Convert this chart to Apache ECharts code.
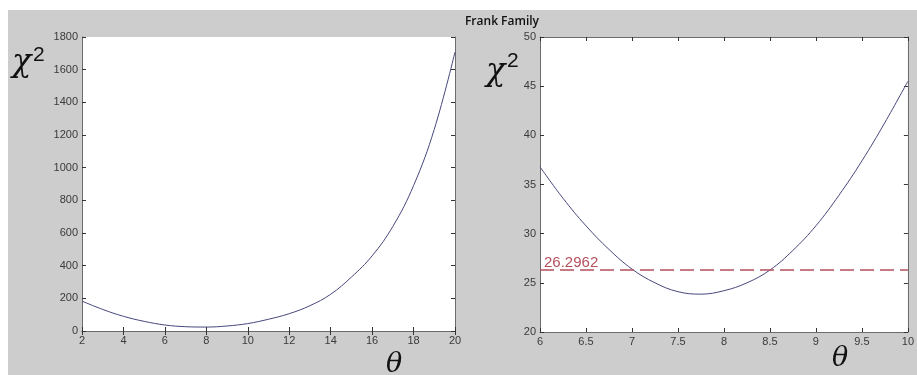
<!DOCTYPE html>
<html>
<head>
<meta charset="utf-8">
<script src="https://cdn.jsdelivr.net/npm/echarts@6/dist/echarts.min.js"></script>
<style>
	html, body { margin: 0; padding: 0; background: #fff; }
	#chart { width: 917px; height: 375px; }
</style>
</head>
<body>
<div id="chart"></div>
<script>
// theta / chi^2 (left: wide range, right: zoom on the minimum)
const wideTheta = [2, 3, 4, 5, 6, 7, 8, 9, 10, 11, 12, 13, 14, 15, 16, 17, 18, 19, 20]
const wideChi2 = [183, 132, 90, 59, 36.8, 26.4, 24.2, 30.8, 45.5, 72, 106, 155, 225, 330, 460, 640, 890, 1235, 1708]

const zoomTheta = [6, 6.25, 6.5, 6.75, 7, 7.25, 7.5, 7.75, 8, 8.25, 8.5, 8.75, 9, 9.25, 9.5, 9.75, 10]
const zoomChi2 = [36.8, 33.6, 30.8, 28.4, 26.4, 25.0, 24.1, 23.85, 24.2, 25.0, 26.3, 28.3, 30.8, 33.9, 37.4, 41.3, 45.5]

const threshold = 26.2962
const titleText = 'Frank Family'

const axisColor = '#6b6b6b'
const labelColor = '#3a3a3a'
const curveColor = '#47477c'
const dashColor = '#b4505c'
const tickFont = 'Liberation Sans'

function pairs(xs, ys) {
	return xs.map((x, i) => [x, ys[i]])
}

// one axis with labels plus a twin on the opposite side carrying only inward ticks (box look)
function xAxes(gridIndex, min, max, interval) {
	const base = {
		type: 'value', gridIndex, min, max, interval,
		splitLine: { show: false },
		axisLine: { lineStyle: { color: axisColor, width: 1 } },
		axisTick: { inside: true, length: 4, lineStyle: { color: '#333' } }
	}
	return [
		Object.assign({}, base, {
			position: 'bottom',
			axisLabel: { color: labelColor, fontSize: 11, margin: 4, fontFamily: tickFont, formatter: v => String(v) }
		}),
		Object.assign({}, base, { position: 'top', axisLabel: { show: false } })
	]
}

function yAxes(gridIndex, min, max, interval) {
	const base = {
		type: 'value', gridIndex, min, max, interval,
		splitLine: { show: false },
		axisLine: { show: true, lineStyle: { color: axisColor, width: 1 } },
		axisTick: { show: true, inside: true, length: 4, lineStyle: { color: '#333' } }
	}
	return [
		Object.assign({}, base, {
			position: 'left',
			axisLabel: { color: labelColor, fontSize: 11, margin: 4, fontFamily: tickFont, formatter: v => String(v) }
		}),
		Object.assign({}, base, { position: 'right', axisLabel: { show: false } })
	]
}

function label(x, y, text, size, family, italic) {
	return {
		type: 'text',
		style: {
			x, y, text,
			fontSize: size,
			fontFamily: family,
			fontStyle: italic ? 'italic' : 'normal',
			fill: '#111',
			verticalAlign: 'top'
		}
	}
}

const chart = echarts.init(document.getElementById('chart'))

chart.setOption({
	backgroundColor: '#fff',
	animation: false,
	title: {
		text: titleText,
		left: 497,
		top: 11,
		textAlign: 'center',
		textStyle: { fontSize: 12, fontWeight: 600, color: '#111', fontFamily: 'Open Sans' }
	},
	graphic: [
		{ type: 'rect', z: -100, shape: { x: 8, y: 10, width: 909, height: 365 }, style: { fill: '#cdcdcd' } },
		label(12, 47, 'χ', 32, 'DejaVu Serif', true),
		label(33, 45, '2', 21, 'Liberation Sans', false),
		label(486, 56, 'χ', 32, 'DejaVu Serif', true),
		label(507, 51, '2', 21, 'Liberation Sans', false),
		label(386, 351, 'θ', 27, 'DejaVu Serif', true),
		label(832, 345, 'θ', 27, 'DejaVu Serif', true)
	],
	grid: [
		{ left: 82, right: 462, top: 37, bottom: 44, show: true, backgroundColor: '#fff', borderWidth: 0 },
		{ left: 540, right: 3, top: 37, bottom: 43, show: true, backgroundColor: '#fff', borderWidth: 0 }
	],
	xAxis: [].concat(xAxes(0, 2, 20, 2), xAxes(1, 6, 10, 0.5)),
	yAxis: [].concat(yAxes(0, 0, 1800, 200), yAxes(1, 20, 50, 5)),
	series: [
		{
			type: 'line',
			xAxisIndex: 0,
			yAxisIndex: 0,
			data: pairs(wideTheta, wideChi2),
			smooth: 0.4,
			showSymbol: false,
			lineStyle: { color: curveColor, width: 1 }
		},
		{
			type: 'line',
			xAxisIndex: 2,
			yAxisIndex: 2,
			data: pairs(zoomTheta, zoomChi2),
			smooth: 0.4,
			showSymbol: false,
			lineStyle: { color: curveColor, width: 1 },
			markLine: {
				silent: true,
				symbol: 'none',
				lineStyle: { color: dashColor, type: [14, 6], width: 1.5 },
				label: {
					show: true,
					position: 'insideStartTop',
					formatter: String(threshold),
					color: dashColor,
					fontSize: 15,
					fontFamily: 'Liberation Sans',
					distance: [4, 0]
				},
				data: [{ yAxis: threshold }]
			}
		}
	]
})
</script>
</body>
</html>
